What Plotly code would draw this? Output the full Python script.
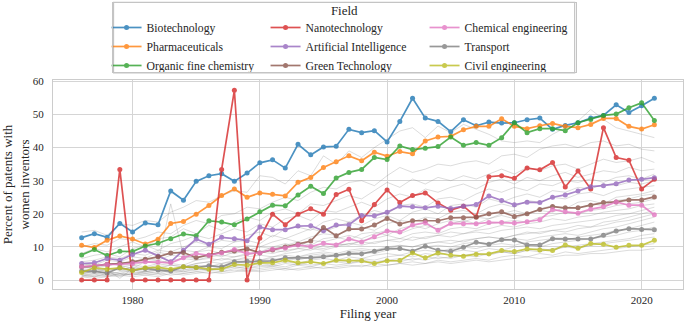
import plotly.graph_objects as go

years = list(range(1976, 2022))

fields = ["Biotechnology", "Pharmaceuticals", "Organic fine chemistry",
          "Nanotechnology", "Artificial Intelligence", "Green Technology",
          "Chemical engineering", "Transport", "Civil engineering"]

biotechnology = [12.8, 14.0, 12.9, 17.1, 14.5, 17.2, 16.7, 26.9, 24.1, 29.8, 31.5, 32.1, 29.8, 32.3, 35.4, 36.3,
                 33.8, 41.0, 37.8, 40.2, 40.4, 45.5, 44.5, 45.1, 41.7, 47.9, 54.9, 48.9, 47.9, 44.8, 48.4, 46.6, 47.7,
                 47.4, 47.5, 48.4, 48.9, 45.5, 46.7, 47.5, 48.9, 49.7, 52.9, 50.6, 52.6, 54.9]
pharmaceuticals = [10.5, 9.8, 12.0, 13.3, 12.4, 10.9, 12.3, 17.1, 17.7, 19.9, 22.5, 25.5, 27.5, 25.0, 26.3, 25.9,
                   25.4, 29.5, 31.0, 34.0, 35.7, 37.5, 36.0, 38.6, 37.4, 38.8, 38.1, 42.0, 43.2, 43.4, 45.4, 46.4, 46.4,
                   48.7, 46.4, 45.7, 46.6, 47.3, 46.4, 46.0, 47.0, 48.8, 48.8, 46.4, 45.6, 46.9]
organic_fine_chemistry = [7.6, 9.2, 7.4, 8.7, 8.6, 10.3, 11.1, 12.5, 13.9, 13.4, 17.9, 17.5, 16.7, 18.4, 20.6, 22.6,
                          22.4, 25.7, 28.3, 26.1, 30.8, 32.5, 33.4, 37.0, 36.4, 40.5, 39.4, 39.8, 40.3, 43.2, 40.7, 41.5, 40.7,
                          43.0, 47.5, 44.5, 45.7, 45.7, 45.1, 47.5, 48.5, 49.7, 50.1, 52.0, 53.5, 48.2]
nanotechnology = [0, 0, 0, 33.4, 0, 0, 0, 0, 0, 0, 0, 33.4, 57.3, 0, 12.6, 19.9,
                  16.7, 19.9, 21.5, 19.9, 25.8, 27.4, 17.9, 22.8, 27.2, 23.4, 25.5, 26.3, 23.3, 21.1, 22.3, 19.1, 31.2,
                  31.5, 30.7, 33.8, 33.3, 35.5, 28.1, 32.9, 27.5, 46.0, 37.0, 36.2, 27.5, 30.4]
artificial_intelligence = [5.0, 5.2, 6.5, 6.0, 7.7, 9.0, 7.3, 5.5, 9.0, 12.4, 10.8, 12.9, 12.5, 11.9, 16.0, 15.2,
                           15.2, 16.3, 16.4, 14.9, 16.6, 16.7, 19.5, 19.4, 20.5, 22.3, 22.1, 21.8, 22.3, 21.6, 22.3, 22.8, 25.4,
                           24.0, 22.7, 23.5, 23.4, 25.0, 25.7, 26.9, 28.2, 28.5, 29.1, 30.2, 30.4, 30.9]
green_technology = [4.0, 4.2, 4.8, 5.0, 5.5, 6.3, 7.0, 8.2, 8.3, 6.8, 7.5, 8.4, 8.8, 9.4, 8.2, 9.1,
                    10.0, 10.8, 11.8, 15.9, 13.4, 15.4, 15.4, 16.6, 18.6, 16.9, 17.9, 17.9, 17.9, 18.8, 18.8, 19.0, 20.0,
                    20.6, 19.2, 20.0, 21.3, 22.2, 21.8, 21.8, 22.6, 23.4, 23.6, 24.2, 24.2, 25.1]
chemical_engineering = [4.0, 4.3, 4.7, 4.7, 5.0, 5.5, 5.4, 5.2, 6.7, 8.0, 7.5, 8.2, 9.2, 8.0, 8.2, 9.3,
                        9.7, 10.6, 10.1, 11.1, 10.6, 12.4, 11.5, 13.1, 14.8, 14.5, 16.6, 17.3, 15.0, 17.1, 17.0, 17.0, 17.4,
                        17.4, 17.2, 17.6, 18.2, 21.3, 20.6, 20.2, 21.4, 22.1, 23.6, 22.6, 22.6, 19.7]
transport = [2.7, 2.7, 2.1, 3.7, 3.0, 3.5, 3.0, 2.7, 4.0, 3.8, 4.3, 4.0, 5.5, 5.7, 5.7, 5.8,
             6.7, 6.7, 6.7, 7.0, 7.5, 8.0, 7.9, 8.7, 9.5, 9.5, 8.7, 10.2, 9.0, 8.7, 9.9, 11.4, 10.8,
             12.2, 12.1, 10.6, 10.6, 12.5, 12.4, 12.4, 12.4, 13.5, 14.8, 15.5, 15.3, 15.2]
civil_engineering = [2.3, 3.7, 3.3, 3.7, 2.9, 3.7, 3.8, 3.3, 4.0, 3.8, 3.3, 3.3, 4.7, 4.5, 5.2, 5.2,
                     6.0, 5.2, 5.5, 5.0, 6.0, 5.8, 5.8, 5.0, 5.8, 5.9, 8.2, 6.7, 8.2, 7.5, 7.2, 7.8, 7.9,
                     8.9, 8.6, 9.4, 9.1, 8.9, 10.6, 9.6, 11.0, 10.8, 9.9, 10.5, 10.5, 12.0]

# Other (unhighlighted) fields, drawn in light grey
other_field_1 = [14.5, 15.0, 13.5, 17.0, 16.5, 18.0, 17.5, 20.5, 22.0, 24.0, 23.5, 25.5, 27.0, 26.5, 31.5, 31.0,
                 29.0, 33.0, 31.5, 37.5, 35.0, 39.0, 37.0, 40.0, 42.5, 45.0, 46.0, 43.0, 46.5, 44.5, 47.0, 45.5,
                 44.0, 42.0, 41.5, 42.0, 41.5, 44.0, 46.0, 48.0, 51.5, 48.5, 46.0, 45.0, 44.0, 43.0]
other_field_2 = [10.0, 11.0, 10.5, 12.5, 12.0, 13.0, 14.5, 14.0, 16.5, 18.0, 17.0, 19.5, 20.0, 22.0, 21.5, 23.5,
                 25.0, 24.0, 26.5, 28.0, 27.5, 29.5, 30.0, 28.5, 31.5, 34.0, 32.5, 33.5, 35.0, 34.5, 35.5, 36.0,
                 35.0, 37.5, 38.0, 37.0, 39.5, 40.5, 41.0, 40.0, 41.5, 42.0, 40.5, 41.0, 39.5, 39.0]
other_field_3 = [8.0, 9.5, 8.5, 10.0, 11.5, 10.0, 12.5, 13.0, 15.5, 14.0, 16.5, 15.0, 17.5, 19.0, 18.0, 20.5,
                 21.5, 20.0, 23.0, 22.5, 24.0, 25.5, 24.5, 27.0, 29.5, 28.0, 30.5, 29.0, 31.0, 30.0, 31.5, 30.5,
                 32.0, 33.5, 32.0, 34.0, 33.0, 34.5, 35.0, 33.5, 35.0, 36.5, 35.5, 36.0, 37.0, 35.5]
other_field_4 = [6.5, 7.5, 8.0, 7.0, 9.5, 10.5, 9.0, 11.0, 12.0, 13.5, 12.5, 14.0, 15.5, 14.5, 17.0, 16.0,
                 18.5, 19.5, 18.0, 21.0, 20.5, 22.0, 23.5, 22.0, 24.5, 26.0, 25.0, 27.5, 26.5, 28.0, 29.0, 27.5,
                 29.5, 30.5, 29.0, 31.0, 30.0, 31.5, 32.5, 31.0, 32.0, 33.0, 32.5, 34.0, 33.0, 33.5]
other_field_5 = [5.5, 6.0, 7.0, 6.5, 8.0, 7.5, 9.0, 8.5, 10.0, 11.5, 10.5, 12.0, 11.5, 13.5, 14.5, 13.0,
                 15.5, 16.0, 15.0, 17.5, 18.5, 17.5, 19.5, 21.0, 20.0, 22.5, 23.0, 22.0, 24.5, 25.0, 24.0, 26.0,
                 27.5, 26.5, 28.0, 27.0, 29.0, 28.5, 30.0, 29.5, 30.5, 29.5, 31.0, 31.5, 30.5, 32.0]
other_field_6 = [5.0, 4.5, 6.0, 5.5, 7.0, 6.5, 8.5, 7.5, 9.0, 8.5, 10.0, 9.5, 11.5, 12.0, 11.0, 13.5,
                 12.5, 14.0, 15.5, 14.5, 16.0, 17.5, 16.5, 18.5, 19.5, 18.0, 20.5, 21.5, 20.0, 22.5, 23.0, 22.0,
                 24.5, 23.5, 25.0, 26.0, 25.0, 27.0, 26.5, 28.0, 27.5, 29.0, 28.5, 29.5, 29.0, 30.0]
other_field_7 = [4.5, 5.0, 4.0, 5.5, 5.0, 6.5, 6.0, 7.5, 7.0, 8.5, 9.0, 8.0, 9.5, 10.5, 10.0, 11.5,
                 12.5, 11.5, 13.0, 14.0, 13.5, 15.0, 16.0, 15.0, 17.0, 18.0, 17.5, 19.0, 18.5, 20.5, 21.0, 20.0,
                 22.0, 23.0, 22.0, 24.0, 23.5, 25.0, 24.5, 26.0, 26.5, 25.5, 27.0, 27.5, 28.0, 28.5]
other_field_8 = [3.5, 4.0, 5.0, 4.5, 3.5, 5.5, 6.0, 5.0, 7.0, 6.5, 7.5, 8.5, 8.0, 9.0, 10.0, 9.5,
                 10.5, 11.5, 10.5, 12.5, 13.0, 12.0, 14.0, 14.5, 13.5, 15.5, 16.5, 15.5, 17.0, 18.0, 17.5, 19.0,
                 18.5, 20.0, 21.0, 20.0, 21.5, 22.5, 21.5, 23.5, 24.0, 23.0, 25.0, 25.5, 26.0, 27.0]
other_field_9 = [3.0, 3.5, 2.5, 4.0, 4.5, 4.0, 5.0, 23.0, 7.5, 6.5, 8.0, 7.0, 8.5, 9.5, 8.5, 10.0,
                 11.0, 10.0, 12.0, 11.5, 12.5, 13.5, 12.5, 14.0, 15.0, 14.0, 15.5, 16.5, 15.5, 17.0, 18.0, 17.0,
                 18.5, 19.5, 18.5, 20.0, 21.0, 20.5, 22.0, 21.5, 23.0, 22.5, 24.0, 24.5, 25.5, 26.0]
other_field_10 = [2.5, 3.0, 3.5, 3.0, 4.0, 3.5, 4.5, 5.0, 4.5, 6.0, 6.5, 6.0, 7.0, 7.5, 8.5, 8.0,
                  9.0, 9.5, 9.0, 10.5, 11.0, 10.5, 12.0, 12.5, 13.5, 12.5, 14.0, 14.5, 14.0, 15.5, 16.0, 15.5,
                  17.0, 17.5, 18.0, 17.5, 19.0, 19.5, 20.5, 20.0, 21.0, 21.5, 22.5, 23.0, 23.5, 24.5]
other_field_11 = [2.0, 2.5, 3.0, 0.5, 3.5, 3.0, 4.0, 4.5, 4.0, 5.0, 5.5, 6.5, 6.0, 7.0, 7.5, 7.0,
                  8.0, 8.5, 9.5, 9.0, 10.0, 11.0, 10.5, 11.5, 12.0, 11.5, 13.0, 12.5, 13.5, 14.5, 14.0, 15.0,
                  15.5, 16.5, 16.0, 17.0, 17.5, 18.5, 18.0, 19.0, 19.5, 20.5, 21.0, 21.5, 22.5, 23.0]
other_field_12 = [4.0, 3.5, 4.5, 5.0, 4.5, 5.5, 5.0, 6.0, 6.5, 6.0, 7.0, 7.5, 7.0, 8.0, 8.5, 9.0,
                  8.5, 9.5, 10.0, 9.5, 10.5, 11.0, 11.5, 11.0, 12.0, 12.5, 12.0, 13.0, 13.5, 13.0, 14.0, 14.5,
                  14.0, 15.0, 15.5, 16.0, 15.5, 16.5, 17.0, 17.5, 18.0, 18.5, 19.5, 20.0, 21.0, 22.0]
other_field_13 = [1.5, 2.0, 2.5, 2.0, 3.0, 2.5, 3.5, 3.0, 4.0, 4.5, 4.0, 5.0, 5.5, 5.0, 6.0, 6.5,
                  6.0, 7.0, 7.5, 8.0, 7.5, 8.5, 9.0, 8.5, 9.5, 10.5, 10.0, 11.0, 11.5, 11.0, 12.0, 12.5,
                  13.0, 12.5, 13.5, 14.5, 14.0, 15.0, 15.5, 16.5, 16.0, 17.5, 18.0, 19.0, 20.0, 21.0]
other_field_14 = [3.0, 2.5, 3.5, 3.0, 2.5, 4.0, 3.5, 4.5, 4.0, 5.0, 5.5, 5.0, 6.0, 6.5, 6.0, 7.0,
                  7.5, 7.0, 8.0, 8.5, 8.0, 9.0, 9.5, 9.0, 10.0, 10.5, 10.0, 11.0, 11.5, 12.0, 11.5, 12.5,
                  13.0, 12.5, 13.5, 14.0, 14.5, 15.0, 14.5, 15.5, 16.0, 16.5, 17.5, 18.0, 19.0, 20.0]
other_field_15 = [2.5, 2.0, 1.5, 2.5, 3.0, 2.5, 3.0, 3.5, 3.0, 4.0, 4.5, 4.0, 5.0, 5.5, 5.0, 6.0,
                  6.5, 6.0, 7.0, 7.5, 7.0, 8.0, 8.5, 8.0, 9.0, 9.5, 9.0, 10.0, 10.5, 10.0, 11.0, 11.5,
                  11.0, 12.0, 12.5, 12.0, 13.0, 13.5, 14.0, 13.5, 14.5, 15.5, 16.0, 17.0, 18.0, 19.0]
other_field_16 = [1.5, 1.0, 2.0, 1.5, 2.5, 2.0, 2.5, 3.0, 2.5, 3.5, 3.0, 4.0, 4.5, 4.0, 5.0, 4.5,
                  5.5, 5.0, 6.0, 6.5, 6.0, 7.0, 6.5, 7.5, 8.0, 7.5, 8.5, 9.0, 8.5, 9.5, 10.0, 9.5,
                  10.5, 11.0, 10.5, 11.5, 12.0, 12.5, 12.0, 13.0, 13.5, 14.0, 15.0, 15.5, 16.5, 17.5]
other_field_17 = [2.0, 1.5, 2.5, 2.0, 1.5, 2.5, 2.0, 3.0, 2.5, 3.0, 3.5, 3.0, 4.0, 3.5, 4.5, 4.0,
                  5.0, 4.5, 5.5, 5.0, 6.0, 5.5, 6.5, 6.0, 7.0, 7.5, 7.0, 8.0, 7.5, 8.5, 9.0, 8.5,
                  9.5, 9.0, 10.0, 10.5, 10.0, 11.0, 11.5, 12.0, 12.5, 13.0, 13.5, 14.5, 15.0, 16.0]
other_field_18 = [1.0, 1.5, 1.0, 2.0, 1.5, 2.0, 1.5, 2.5, 2.0, 2.5, 3.0, 2.5, 3.5, 3.0, 3.5, 4.0,
                  3.5, 4.5, 4.0, 5.0, 4.5, 5.0, 5.5, 5.0, 6.0, 5.5, 6.5, 6.0, 7.0, 6.5, 7.5, 7.0,
                  8.0, 8.5, 8.0, 9.0, 9.5, 9.0, 10.0, 10.5, 11.0, 11.5, 12.0, 12.5, 13.5, 14.0]
other_field_19 = [2.0, 2.5, 2.0, 1.5, 2.0, 2.5, 3.0, 2.5, 3.0, 3.5, 3.0, 3.5, 4.0, 3.5, 4.0, 4.5,
                  4.0, 5.0, 4.5, 5.0, 5.5, 5.0, 6.0, 5.5, 6.0, 6.5, 6.0, 7.0, 6.5, 7.0, 7.5, 8.0,
                  7.5, 8.5, 8.0, 9.0, 8.5, 9.5, 10.0, 9.5, 10.5, 11.0, 11.5, 12.0, 12.5, 13.0]
other_field_20 = [1.0, 0.5, 1.0, 1.5, 1.0, 1.5, 2.0, 1.5, 2.0, 2.5, 2.0, 2.5, 3.0, 2.5, 3.0, 3.5,
                  3.0, 3.5, 4.0, 3.5, 4.0, 4.5, 4.0, 5.0, 4.5, 5.0, 5.5, 5.0, 6.0, 5.5, 6.0, 6.5,
                  6.0, 7.0, 7.5, 7.0, 8.0, 7.5, 8.5, 8.0, 8.5, 9.0, 9.5, 10.0, 10.5, 11.0]
other_field_21 = [1.5, 1.0, 1.5, 1.0, 2.0, 1.5, 1.0, 2.0, 1.5, 2.0, 2.5, 2.0, 2.5, 3.0, 2.5, 3.0,
                  3.5, 3.0, 3.5, 4.0, 3.5, 4.0, 4.5, 4.0, 4.5, 5.0, 4.5, 5.0, 5.5, 5.0, 5.5, 6.0,
                  5.5, 6.0, 6.5, 7.0, 6.5, 7.0, 7.5, 7.5, 8.0, 8.0, 8.5, 9.0, 9.0, 9.5]

other_fields = [other_field_1, other_field_2, other_field_3, other_field_4, other_field_5,
                other_field_6, other_field_7, other_field_8, other_field_9, other_field_10,
                other_field_11, other_field_12, other_field_13, other_field_14, other_field_15,
                other_field_16, other_field_17, other_field_18, other_field_19, other_field_20,
                other_field_21]

series = [biotechnology, pharmaceuticals, organic_fine_chemistry, nanotechnology,
          artificial_intelligence, green_technology, chemical_engineering, transport,
          civil_engineering]
colors = ["#1f77b4", "#ff7f0e", "#2ca02c", "#d62728", "#9467bd", "#8c564b",
          "#e377c2", "#7f7f7f", "#bcbd22"]
# legend laid out column-wise in 3 columns
legend_ranks = [1, 4, 7, 2, 5, 8, 3, 6, 9]
legend_title = "Field"

xtick_vals = [1980, 1990, 2000, 2010, 2020]
ytick_vals = [0, 10, 20, 30, 40, 50, 60]

FONT = '"Liberation Serif", "Times New Roman", "DejaVu Serif", serif'
TXT = "#262626"

fig = go.Figure()
for vals in other_fields:
    fig.add_trace(go.Scatter(x=years, y=vals, mode="lines",
                             line=dict(color="rgba(128,128,128,0.35)", width=0.8),
                             showlegend=False, hoverinfo="skip"))

for name, vals, col, rk in zip(fields, series, colors, legend_ranks):
    fig.add_trace(go.Scatter(x=years, y=vals, mode="lines+markers", name=name,
                             line=dict(color=col, width=1.7),
                             marker=dict(color=col, size=5),
                             opacity=0.8, legendrank=rk))

# frame around the legend entries and its title
fig.add_shape(type="rect", xref="paper", yref="paper",
              x0=0.0961, x1=0.828, y0=1.0335, y1=1.371,
              line=dict(color="#c4c4c4", width=1.2), fillcolor="rgba(0,0,0,0)", layer="above")
fig.add_annotation(text=legend_title, xref="paper", yref="paper", x=0.462, y=1.373,
                   xanchor="center", yanchor="top", showarrow=False,
                   width=463, height=69, valign="top", align="center",
                   bordercolor="#c4c4c4", borderwidth=1, borderpad=0,
                   bgcolor="rgba(0,0,0,0)",
                   font=dict(family=FONT, size=13, color=TXT))

fig.update_layout(
    width=685, height=323,
    margin=dict(l=49, r=1, t=80, b=34),
    paper_bgcolor="white", plot_bgcolor="white",
    font=dict(family=FONT, color=TXT, size=11),
    showlegend=True,
    legend=dict(orientation="h", x=0.085, xanchor="left", y=1.3206, yanchor="top",
                bgcolor="rgba(0,0,0,0)", borderwidth=0,
                font=dict(family=FONT, size=11.7, color=TXT),
                entrywidth=114, entrywidthmode="pixels", itemwidth=30),
    xaxis=dict(range=[1973.75, 2023.25], tickvals=xtick_vals, ticktext=[str(v) for v in xtick_vals],
               showgrid=True, gridcolor="#d5d5d5", gridwidth=1, zeroline=False,
               showline=True, linecolor="#cccccc", linewidth=1, mirror=True,
               ticks="", ticklabelstandoff=1,
               title=dict(text="Filing year", font=dict(family=FONT, size=13, color=TXT), standoff=3),
               tickfont=dict(family=FONT, size=11, color=TXT)),
    yaxis=dict(range=[-2.7, 60.4], tickvals=ytick_vals, ticktext=[str(v) for v in ytick_vals],
               showgrid=True, gridcolor="#d5d5d5", gridwidth=1, zeroline=False,
               showline=True, linecolor="#cccccc", linewidth=1, mirror=True,
               ticks="", ticklabelstandoff=6,
               title=dict(text="Percent of patents with<br>women inventors",
                          font=dict(family=FONT, size=13, color=TXT), standoff=6),
               tickfont=dict(family=FONT, size=11, color=TXT)),
)

fig.write_html("out.html", config={"displayModeBar": False},
               post_script="document.body.style.margin='0';")
